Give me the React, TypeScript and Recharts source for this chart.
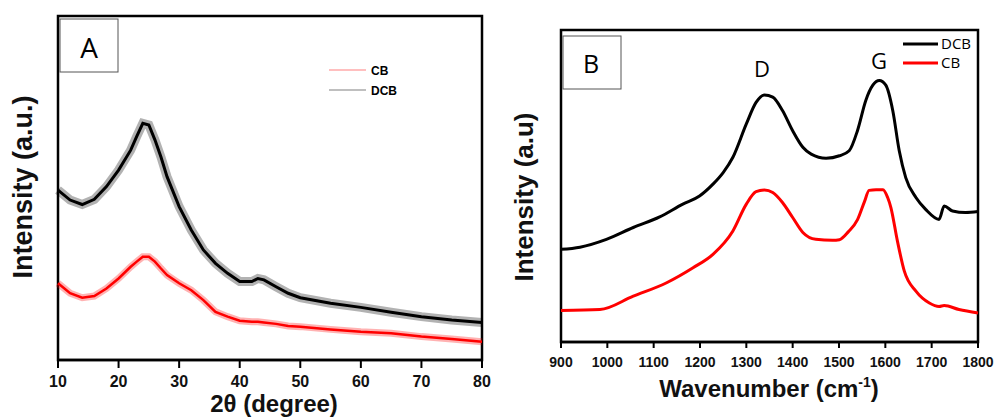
import { LineChart, Line, XAxis, YAxis, ReferenceArea, Legend } from "recharts";

// panel A: XRD, 2-theta in degrees, intensity in arbitrary units (0-100)
const xrdAngle = [10, 12, 14, 16, 18, 20, 22, 23, 24, 25, 26, 27, 28, 30, 32, 34, 36, 38, 40, 42, 43, 44, 46, 48, 50, 55, 60, 65, 70, 75, 80];
const xrdCB = [22.3, 19.4, 18.1, 18.6, 20.8, 23.7, 27.1, 28.6, 30, 30, 28.6, 26.6, 24.7, 22.3, 20.3, 17.4, 14, 12.6, 11.4, 11.1, 11.1, 10.9, 10.5, 9.9, 9.7, 8.9, 8.2, 7.8, 6.8, 6.1, 5.3];
const xrdDCB = [49.4, 46.5, 45.2, 46.7, 50.4, 55.2, 61, 65, 68.8, 68.3, 64, 59, 53.3, 44.6, 37.8, 32, 28.1, 25.2, 22.8, 22.8, 23.7, 23.3, 21.3, 19.4, 18.1, 16.5, 15.3, 13.9, 12.6, 11.6, 10.9];
const xrdMajor = [10, 20, 30, 40, 50, 60, 70, 80];
const xrdMinor = [15, 25, 35, 45, 55, 65, 75];
const xrdLegendOrder = ["CB", "DCB"];

// panel B: Raman, wavenumber in cm-1
const ramanDcbX = [900, 941, 998, 1056, 1113, 1163, 1199, 1228, 1250, 1271, 1300, 1321, 1339, 1357, 1378, 1400, 1422, 1440, 1472, 1501, 1522, 1540, 1558, 1573, 1587, 1601, 1616, 1630, 1644, 1666, 1687, 1716, 1727, 1745, 1773, 1800];
const ramanDcbY = [29.7, 30.4, 32.9, 36.7, 40.1, 44.2, 46.8, 50.6, 54.3, 59.2, 69.9, 76.8, 79.2, 78.5, 74.2, 67.7, 62.4, 60.2, 58.9, 59.7, 61.3, 67.8, 77.5, 82.3, 83.8, 82.3, 74.2, 61.3, 52.7, 46.3, 42.5, 39.3, 43.6, 42, 41.5, 41.8];
const ramanCbX = [900, 984, 1056, 1128, 1185, 1228, 1271, 1300, 1321, 1339, 1357, 1378, 1400, 1422, 1450, 1486, 1501, 1520, 1540, 1555, 1565, 1580, 1595, 1605, 1612, 1626, 1641, 1666, 1695, 1716, 1727, 1759, 1800];
const ramanCbY = [10.1, 10.4, 14.7, 19, 23.8, 28.1, 35.6, 44.2, 48.2, 48.7, 47.9, 44.7, 39.9, 35.1, 32.9, 32.6, 32.8, 35.3, 39.2, 45, 48.6, 48.8, 48.8, 46.3, 43.1, 32.4, 22.7, 16.3, 12.5, 11.4, 11.7, 10.4, 9.3];
const ramanMajor = [900, 1000, 1100, 1200, 1300, 1400, 1500, 1600, 1700, 1800];
const ramanMinor = [950, 1050, 1150, 1250, 1350, 1450, 1550, 1650, 1750];
const ramanLegendOrder = ["DCB", "CB"];

const xrdRows = xrdAngle.map((a, i) => ({ angle: a, cb: xrdCB[i], dcb: xrdDCB[i] }));
const ramanDcbRows = ramanDcbX.map((w, i) => ({ wn: w, v: ramanDcbY[i] }));
const ramanCbRows = ramanCbX.map((w, i) => ({ wn: w, v: ramanCbY[i] }));

const BOLD = "'Liberation Sans', Arial, sans-serif";
const PLAIN = "'Open Sans', 'Noto Sans', sans-serif";

function makeTickLabel(fontSize: number, dy: number) {
  return (props: any) => {
    const { x, y, payload } = props;
    return (
      <text x={x} y={y + dy} textAnchor="middle" fontSize={fontSize} fontWeight="bold" fontFamily={BOLD} fill="#111">
        {payload.value}
      </text>
    );
  };
}

const XrdTick = makeTickLabel(16, 19);
const RamanTick = makeTickLabel(14, 19);

function pick(payload: any[], order: string[]) {
  return (payload || [])
    .filter((p: any) => order.includes(p.value))
    .sort((a: any, b: any) => order.indexOf(a.value) - order.indexOf(b.value));
}

// legend svgs start 10px above the first line so the text is not clipped
const XrdLegend = ({ payload }: any) => (
  <svg width={120} height={55}>
    {pick(payload, xrdLegendOrder).map((p: any, i: number) => (
      <g key={p.value}>
        <line x1={0} x2={37} y1={15 + i * 20} y2={15 + i * 20} stroke={p.color} strokeOpacity={0.5} strokeWidth={1.2} />
        <text x={42} y={20 + i * 20} fontSize={12} fontWeight="bold" fontFamily={BOLD}>{p.value}</text>
      </g>
    ))}
  </svg>
);

const RamanLegend = ({ payload }: any) => (
  <svg width={100} height={55}>
    {pick(payload, ramanLegendOrder).map((p: any, i: number) => (
      <g key={p.value}>
        <line x1={0} x2={35} y1={15 + i * 19} y2={15 + i * 19} stroke={p.color} strokeWidth={3} />
        <text x={38} y={20 + i * 19} fontSize={15} fontFamily={PLAIN}>{p.value}</text>
      </g>
    ))}
  </svg>
);

const tickStroke = { stroke: "#000", strokeWidth: 2 };
const axisStroke = { stroke: "#000", strokeWidth: 2.5 };

export default function App() {
  return (
    <div style={{ position: "absolute", left: 0, top: 0, width: 995, height: 419, background: "#fff" }}>
      <div style={{ position: "absolute", left: 0, top: 0 }}>
        <LineChart width={500} height={419} data={xrdRows} margin={{ top: 16, right: 18, bottom: 9, left: 58 }}>
          <XAxis
            xAxisId="minor"
            dataKey="angle"
            type="number"
            domain={[10, 80]}
            ticks={xrdMinor}
            interval={0}
            height={0}
            stroke="#000"
            axisLine={false}
            tickLine={tickStroke}
            tickSize={5}
            tick={false}
          />
          <XAxis
            dataKey="angle"
            type="number"
            domain={[10, 80]}
            ticks={xrdMajor}
            interval={0}
            height={50}
            stroke="#000"
            axisLine={axisStroke}
            tickLine={tickStroke}
            tickSize={8}
            tickMargin={0}
            tick={XrdTick}
          />
          <YAxis type="number" domain={[0, 100]} hide />
          <ReferenceArea x1={10} x2={80} y1={0} y2={100} fill="none" stroke="#000" strokeWidth={2.5} />
          <Line type="linear" dataKey="cb" stroke="#ff0000" strokeWidth={7} strokeOpacity={0.3} dot={false} legendType="none" isAnimationActive={false} />
          <Line type="linear" dataKey="dcb" stroke="#000000" strokeWidth={9} strokeOpacity={0.3} dot={false} legendType="none" isAnimationActive={false} />
          <Line type="linear" dataKey="cb" name="CB" stroke="#ff0000" strokeWidth={2.5} dot={false} isAnimationActive={false} />
          <Line type="linear" dataKey="dcb" name="DCB" stroke="#000000" strokeWidth={3} dot={false} isAnimationActive={false} />
          <Legend
            layout="vertical"
            align="center"
            verticalAlign="middle"
            width={120}
            height={55}
            content={XrdLegend}
            wrapperStyle={{ left: 329, top: 55 }}
          />
        </LineChart>
      </div>

      <div style={{ position: "absolute", left: 500, top: 0 }}>
        <LineChart width={495} height={419} margin={{ top: 30, right: 17, bottom: 27, left: 61 }}>
          <XAxis
            xAxisId="minor"
            dataKey="wn"
            type="number"
            domain={[900, 1800]}
            ticks={ramanMinor}
            interval={0}
            height={0}
            stroke="#000"
            axisLine={false}
            tickLine={tickStroke}
            tickSize={4}
            tick={false}
          />
          <XAxis
            dataKey="wn"
            type="number"
            domain={[900, 1800]}
            ticks={ramanMajor}
            interval={0}
            height={50}
            stroke="#000"
            axisLine={axisStroke}
            tickLine={tickStroke}
            tickSize={6}
            tickMargin={0}
            tick={RamanTick}
          />
          <YAxis type="number" domain={[0, 100]} hide />
          <ReferenceArea x1={900} x2={1800} y1={0} y2={100} fill="none" stroke="#000" strokeWidth={2.5} />
          <Line data={ramanDcbRows} type="monotone" dataKey="v" name="DCB" stroke="#000000" strokeWidth={3} dot={false} isAnimationActive={false} />
          <Line data={ramanCbRows} type="monotone" dataKey="v" name="CB" stroke="#ff0000" strokeWidth={3} dot={false} isAnimationActive={false} />
          <Legend
            layout="vertical"
            align="center"
            verticalAlign="middle"
            width={100}
            height={55}
            content={RamanLegend}
            wrapperStyle={{ left: 403, top: 29 }}
          />
        </LineChart>
      </div>

      <svg width={995} height={419} style={{ position: "absolute", left: 0, top: 0, pointerEvents: "none" }}>
        <text transform="translate(32,187) rotate(-90)" textAnchor="middle" fontSize={27} fontWeight="bold" fontFamily={BOLD} fill="#111">
          Intensity (a.u.)
        </text>
        <text x={274} y={412} textAnchor="middle" fontSize={24} fontWeight="bold" fontFamily={BOLD} fill="#111">
          2θ (degree)
        </text>
        <rect x={60} y={19} width={58} height={53} fill="#fff" stroke="#555" strokeWidth={1} />
        <text x={89} y={58} textAnchor="middle" fontSize={28} fontFamily={PLAIN} fill="#000">A</text>

        <text transform="translate(533,197) rotate(-90)" textAnchor="middle" fontSize={26} fontWeight="bold" fontFamily={BOLD} fill="#111">
          Intensity (a.u)
        </text>
        <text x={769} y={397} textAnchor="middle" fontSize={24} fontWeight="bold" fontFamily={BOLD} fill="#111">
          Wavenumber (cm<tspan fontSize={14} dy={-10}>-1</tspan><tspan dy={10}>)</tspan>
        </text>
        <rect x={563} y={36} width={58} height={53} fill="#fff" stroke="#555" strokeWidth={1} />
        <text x={591} y={73} textAnchor="middle" fontSize={25} fontFamily={PLAIN} fill="#000">B</text>
        <text x={762} y={77} textAnchor="middle" fontSize={22} fontFamily={PLAIN} fill="#000">D</text>
        <text x={879} y={69} textAnchor="middle" fontSize={22} fontFamily={PLAIN} fill="#000">G</text>
      </svg>
    </div>
  );
}
